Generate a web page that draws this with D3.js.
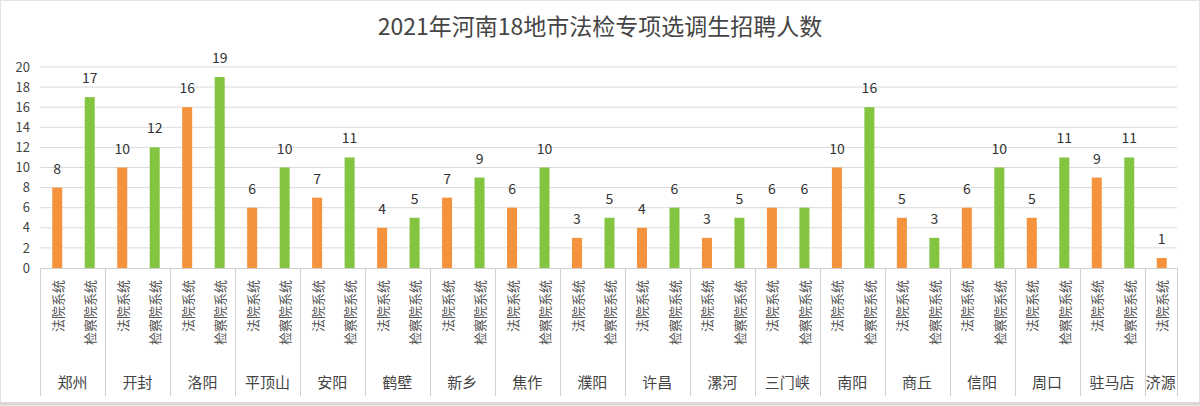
<!DOCTYPE html>
<html><head><meta charset="utf-8">
<script src="https://cdn.jsdelivr.net/npm/d3@7/dist/d3.min.js"></script>
<style>
html,body{margin:0;padding:0;background:#fff;}
svg{display:block;font-family:"Noto Sans CJK SC","Noto Sans",sans-serif;}
</style></head>
<body><svg id="chart" width="1200" height="406"></svg>
<script>
const title = "2021年河南18地市法检专项选调生招聘人数";
const cities = ["郑州","开封","洛阳","平顶山","安阳","鹤壁","新乡","焦作","濮阳","许昌","漯河","三门峡","南阳","商丘","信阳","周口","驻马店","济源"];
const courtValues = [8,10,16,6,7,4,7,6,3,4,3,6,10,5,6,5,9,1];
const procValues  = [17,12,19,10,11,5,9,10,5,6,5,6,16,3,10,11,11,null];
const seriesNames = ["法院系统","检察院系统"];
const yTicks = [0,2,4,6,8,10,12,14,16,18,20];

const colors = {"法院系统":"#F5923E","检察院系统":"#83C441"};

const slots = [];
cities.forEach((c,i)=>{
  slots.push({city:c, series:seriesNames[0], value:courtValues[i]});
  if (procValues[i] !== null) slots.push({city:c, series:seriesNames[1], value:procValues[i]});
});
slots.forEach((d,i)=>d.key=i);

const svg = d3.select("#chart");
const mLeft = 40, mRight = 1177, mTop = 67, mBottom = 268;

svg.append("rect").attr("x",0.5).attr("y",0.5).attr("width",1199).attr("height",402)
  .attr("fill","#fff").attr("stroke","#e2e2e2");
svg.append("line").attr("x1",0).attr("x2",1200).attr("y1",404).attr("y2",404)
  .attr("stroke","#d6d6d6").attr("stroke-width",3);

const x = d3.scaleBand().domain(slots.map(d=>d.key)).range([mLeft,mRight]).padding(0);
const y = d3.scaleLinear().domain([0,20]).range([mBottom,mTop]);

svg.append("text").attr("x",600).attr("y",35).attr("text-anchor","middle")
  .attr("font-size",23).attr("fill","#454545").text(title);

svg.append("g").selectAll("line").data(yTicks.filter(t=>t>0)).join("line")
  .attr("x1",mLeft).attr("x2",mRight).attr("y1",d=>y(d)).attr("y2",d=>y(d))
  .attr("stroke","#dadada").attr("stroke-width",1);

const yAxis = d3.axisLeft(y).tickValues(yTicks).tickSize(0).tickPadding(10);
const ga = svg.append("g").attr("transform",`translate(${mLeft},0)`).call(yAxis);
ga.select(".domain").remove();
ga.selectAll("text").attr("font-size",13).attr("fill","#444").attr("font-family","'Noto Sans CJK SC',sans-serif");

svg.append("line").attr("x1",mLeft).attr("x2",mRight).attr("y1",mBottom+0.5).attr("y2",mBottom+0.5)
  .attr("stroke","#d0d0d0");

const barW = 10;
svg.append("g").selectAll("rect").data(slots).join("rect")
  .attr("x",d=>x(d.key)+x.bandwidth()/2-barW/2+1)
  .attr("width",barW)
  .attr("y",d=>y(d.value))
  .attr("height",d=>y(0)-y(d.value))
  .attr("fill",d=>colors[d.series]);

svg.append("g").selectAll("text").data(slots).join("text")
  .attr("x",d=>x(d.key)+x.bandwidth()/2+1)
  .attr("y",d=>y(d.value)-14)
  .attr("text-anchor","middle").attr("font-size",14).attr("fill","#333")
  .text(d=>d.value);

svg.append("g").selectAll("text").data(slots).join("text")
  .attr("transform",d=>`translate(${x(d.key)+x.bandwidth()/2+1},280) rotate(-90)`)
  .attr("text-anchor","end").attr("dominant-baseline","central")
  .attr("font-size",13).attr("fill","#555")
  .text(d=>d.series);

const groups = cities.map(c=>{
  const s = slots.filter(d=>d.city===c);
  return {city:c, x0:x(s[0].key), x1:x(s[s.length-1].key)+x.bandwidth()};
});
const bounds = [mLeft, ...groups.map(g=>g.x1)];
svg.append("g").selectAll("line").data(bounds).join("line")
  .attr("x1",d=>Math.round(d)+0.5).attr("x2",d=>Math.round(d)+0.5)
  .attr("y1",mBottom).attr("y2",396)
  .attr("stroke","#d0d0d0");
svg.append("g").selectAll("text").data(groups).join("text")
  .attr("x",d=>(d.x0+d.x1)/2).attr("y",388)
  .attr("text-anchor","middle").attr("font-size",15).attr("fill","#444")
  .text(d=>d.city);
</script></body></html>
